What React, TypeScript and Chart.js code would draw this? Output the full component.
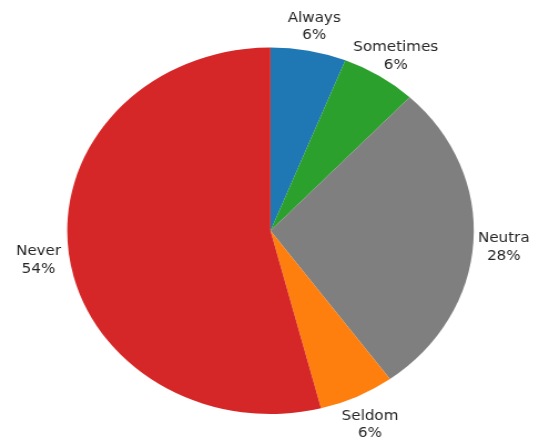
import React, { useEffect, useRef } from "react";
import { Chart, registerables } from "chart.js";

Chart.register(...registerables);

const categories = ["Always", "Sometimes", "Neutra", "Seldom", "Never"];
const values = [6, 6, 28, 6, 54];
const colors = ["#1f77b4", "#2ca02c", "#7f7f7f", "#ff7f0e", "#d62728"];

const STRETCH = 1.109; // horizontal ellipse stretch of the pie
const TEXT_WIDEN = 1.12; // approximate the wide geometric label font
const W = 536;
const H = 439;

const labelPlugin = {
  id: "outerLabels",
  afterDatasetsDraw(chart: any) {
    const ctx = chart.ctx;
    const meta = chart.getDatasetMeta(0);
    const total = values.reduce((a, b) => a + b, 0);
    ctx.save();
    ctx.fillStyle = "#262626";
    ctx.font = "13.5px 'DejaVu Sans', sans-serif";
    ctx.textAlign = "center";
    ctx.textBaseline = "middle";
    meta.data.forEach((arc: any, i: number) => {
      const p = arc.getProps(["x", "y", "startAngle", "endAngle", "outerRadius"], true);
      const mid = (p.startAngle + p.endAngle) / 2;
      const r = p.outerRadius * 1.15;
      const cx = p.x + Math.cos(mid) * r;
      const cy = p.y + Math.sin(mid) * r + 3.5;
      const pct = Math.round((values[i] / total) * 100) + "%";
      ctx.save();
      ctx.translate(cx, cy);
      ctx.scale(TEXT_WIDEN / STRETCH, 1);
      ctx.fillText(categories[i], 0, -8.75);
      ctx.fillText(pct, 0, 8.75);
      ctx.restore();
    });
    ctx.restore();
  },
};

export default function App() {
  const ref = useRef<HTMLCanvasElement>(null);
  useEffect(() => {
    if (!ref.current) return;
    const chart = new Chart(ref.current, {
      type: "pie",
      data: {
        labels: categories,
        datasets: [
          {
            data: values,
            backgroundColor: colors,
            borderWidth: 0,
            radius: 183.3,
          } as any,
        ],
      },
      options: {
        animation: false,
        responsive: true,
        maintainAspectRatio: false,
        layout: { padding: { top: 47.5, bottom: 24.9, left: 61, right: 56.5 } },
        plugins: {
          legend: { display: false },
          tooltip: { enabled: false },
        },
        events: [],
      },
      plugins: [labelPlugin],
    });
    return () => chart.destroy();
  }, []);
  return (
    <div style={{ position: "fixed", left: 0, top: 0, width: W, height: H, background: "#fff", overflow: "hidden" }}>
      <div
        style={{
          position: "absolute",
          left: 0,
          top: 0,
          width: W / STRETCH,
          height: H,
          transform: `scaleX(${STRETCH})`,
          transformOrigin: "0 0",
        }}
      >
        <canvas ref={ref} />
      </div>
    </div>
  );
}
